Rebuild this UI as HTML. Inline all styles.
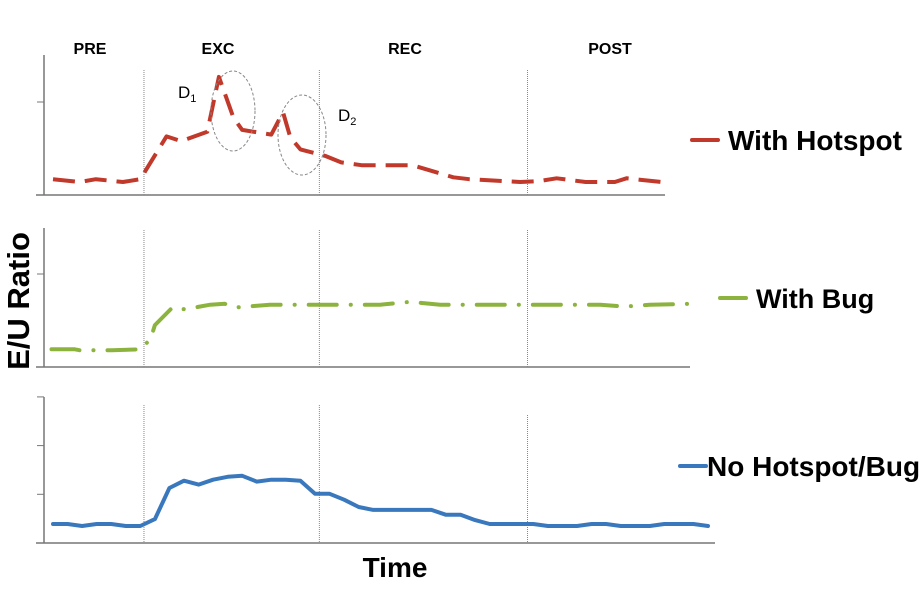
<!DOCTYPE html>
<html><head><meta charset="utf-8"><style>
body{margin:0;background:#fff;}
svg{display:block;font-family:"Liberation Sans",Arial,sans-serif;}
</style></head><body>
<svg id="chart" width="922" height="593" viewBox="0 0 922 593" xmlns="http://www.w3.org/2000/svg">
<g id="static">
  <text x="90" y="54" text-anchor="middle" font-size="16" font-weight="bold">PRE</text>
  <text x="218" y="54" text-anchor="middle" font-size="16" font-weight="bold">EXC</text>
  <text x="405" y="54" text-anchor="middle" font-size="16" font-weight="bold">REC</text>
  <text x="610" y="54" text-anchor="middle" font-size="16" font-weight="bold">POST</text>
  <text transform="translate(29,301) rotate(-90)" text-anchor="middle" font-size="31" font-weight="bold">E/U Ratio</text>
  <text x="395" y="577" text-anchor="middle" font-size="28" font-weight="bold">Time</text>
  <ellipse cx="233" cy="111" rx="22" ry="40" fill="none" stroke="#888" stroke-dasharray="3,2" stroke-width="1"/>
  <ellipse cx="302" cy="135" rx="24" ry="40" fill="none" stroke="#888" stroke-dasharray="3,2" stroke-width="1"/>
  <text x="178" y="98" font-size="17">D<tspan font-size="11" dy="4">1</tspan></text>
  <text x="338" y="121" font-size="17">D<tspan font-size="11" dy="4">2</tspan></text>
  <line x1="692" y1="140" x2="718" y2="140" stroke="#c0392b" stroke-width="4" stroke-linecap="round"/>
  <text x="728" y="150" font-size="28" font-weight="bold">With Hotspot</text>
  <line x1="720" y1="298" x2="746" y2="298" stroke="#8db33f" stroke-width="4" stroke-linecap="round"/>
  <text x="756" y="308" font-size="27" font-weight="bold">With Bug</text>
  <line x1="680" y1="466" x2="706" y2="466" stroke="#3a78bd" stroke-width="4" stroke-linecap="round"/>
  <text x="707" y="476" font-size="28" font-weight="bold">No Hotspot/Bug</text>
</g>
</svg>
<script>
const phaseBoundaries = [6.25, 18.3, 32.6];
const hotT = [0,1.85,2.95,4.8,6,7.8,8.8,10.6,11.4,12.4,13,15,15.8,16.3,17,18.7,19.8,21.2,24.7,27.5,28.6,32.1,33.4,34.6,36.6,38.6,39.4,41.8];
const hotV = [0.17,0.14,0.17,0.14,0.17,0.63,0.58,0.68,1.27,0.83,0.70,0.65,0.89,0.62,0.49,0.42,0.35,0.32,0.32,0.19,0.17,0.14,0.15,0.18,0.14,0.14,0.18,0.14];
const bugT = [-0.1,1.5,1.85,4.05,6,6.7,7.0,8.2,9.05,10.8,11.8,12.5,14.9,17,18.3,21.1,22.5,24.5,26.6,29.3,32.1,34.8,37.6,39.3,41,43.8];
const bugV = [0.19,0.19,0.18,0.18,0.19,0.30,0.45,0.64,0.62,0.67,0.68,0.64,0.67,0.67,0.67,0.67,0.67,0.70,0.67,0.67,0.67,0.67,0.67,0.65,0.67,0.68];
const normT = [0,1,2,3,4,5,6,7,8,9,10,11,12,13,14,15,16,17,18,19,20,21,22,23,24,25,26,27,28,29,30,31,32,33,34,35,36,37,38,39,40,41,42,43,44,45];
const normV = [0.39,0.39,0.35,0.39,0.39,0.35,0.35,0.49,1.13,1.28,1.2,1.3,1.36,1.38,1.26,1.3,1.3,1.28,1.01,1.01,0.89,0.74,0.68,0.68,0.68,0.68,0.68,0.58,0.58,0.47,0.39,0.39,0.39,0.39,0.35,0.35,0.35,0.39,0.39,0.35,0.35,0.35,0.39,0.39,0.39,0.35];

const NS = 'http://www.w3.org/2000/svg';
const svg = document.getElementById('chart');
const xOf = t => 53 + t * (655 / 45);
const panels = [
  {name:'hotspot', base:195, top:55, unit:93, ticks:[1], vTop:70, t:hotT, v:hotV, color:'#c0392b', dash:'22,10', cap:'butt'},
  {name:'bug', base:367, top:228, unit:93, ticks:[1], vTop:230, t:bugT, v:bugV, color:'#8db33f', dash:'28,14,0.1,14', cap:'round'},
  {name:'normal', base:543, top:397, unit:48.7, ticks:[1,2], vTop:405, t:normT, v:normV, color:'#3a78bd', dash:null, cap:'round'}
];
function mk(tag, attrs){const e=document.createElementNS(NS,tag);for(const k in attrs)e.setAttribute(k,attrs[k]);svg.appendChild(e);return e;}
panels.forEach(p=>{
  const y = v => p.base - v * p.unit;
  const ax = mk('line',{x1:44,y1:p.top,x2:44,y2:p.base,stroke:'#777','stroke-width':1.5});
  
  
  const bx = mk('line',{x1:36,y1:p.base,x2:p.name==='bug'?690:(p.name==='normal'?715:665),y2:p.base,stroke:'#777','stroke-width':1.5});
  
  
  [0].concat(p.ticks).concat(p.name==='normal'?[3]:[]).forEach(tv=>{
    const tk = mk('line',{x1:37,y1:y(tv),x2:44,y2:y(tv),stroke:'#777','stroke-width':1});
    
    
  });
  phaseBoundaries.forEach((b,i)=>{
    const top = (p.name==='normal' && i===2) ? 415 : p.vTop;
    const vl = mk('line',{x1:xOf(b),y1:top,x2:xOf(b),y2:p.base,stroke:'#888','stroke-width':1,'stroke-dasharray':'1,1'});
    
    
  });
  const d = p.t.map((t,i)=>(i?'L':'M')+xOf(t).toFixed(1)+','+y(p.v[i]).toFixed(1)).join(' ');
  const attrs = {d:d,fill:'none',stroke:p.color,'stroke-width':4,'stroke-linecap':p.cap,'stroke-linejoin':'round'};
  if(p.dash) attrs['stroke-dasharray']=p.dash;
  const ln = mk('path',attrs);
  
  
});
svg.appendChild(document.getElementById('static'));
</script>
</body></html>
